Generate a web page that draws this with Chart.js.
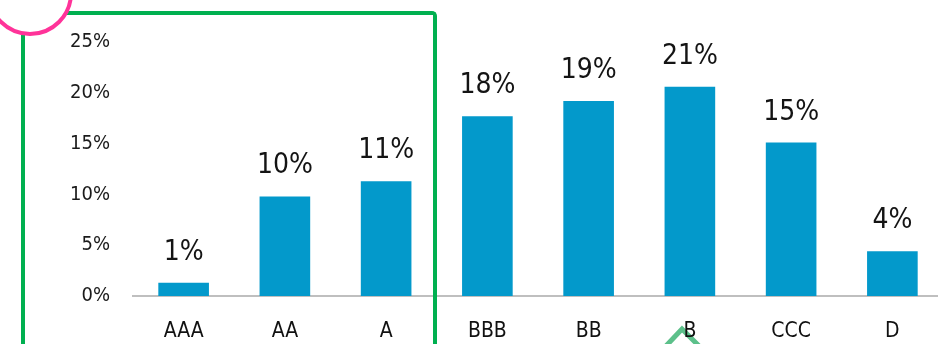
<!DOCTYPE html>
<html>
<head>
<meta charset="utf-8">
<script src="https://cdn.jsdelivr.net/npm/chart.js@4"></script>
<style>
  html, body { margin: 0; padding: 0; background: #fff; overflow: hidden; }
  #wrap { position: relative; width: 938px; height: 344px; overflow: hidden; }
  #arrow { position: absolute; left: 0; top: 0; }
  #box { position: absolute; width: 943px; height: 344px; left: 0; top: 0; }
  #greenBox {
    position: absolute; left: 21px; top: 11px; width: 408px; height: 400px;
    border: 4px solid #00b050; border-bottom: none; border-top-right-radius: 5px;
  }
  #ring {
    position: absolute; left: -13px; top: -50px; width: 78px; height: 78px;
    border: 4px solid #ff3399; border-radius: 50%; background: #fff; overflow: hidden;
  }
  #ring span {
    position: absolute; left: 12px; top: 15px; font: bold 30px "Liberation Sans", sans-serif; color: #00b050;
  }
</style>
</head>
<body>
<div id="wrap">
  <svg id="arrow" width="938" height="344">
    <polyline points="665,347 682,329 700,347" fill="none" stroke="#5cc08a" stroke-width="5"/>
  </svg>
  <div id="box"><canvas id="chart" width="943" height="344"></canvas></div>
  <div id="greenBox"></div>
  <div id="ring"><span>24%</span></div>
</div>
<script>
  const notations = ["AAA", "AA", "A", "BBB", "BB", "B", "CCC", "D"];
  const parts = [1.3, 9.8, 11.3, 17.7, 19.2, 20.6, 15.1, 4.4];
  const yTicks = [0, 5, 10, 15, 20, 25];

  const police = "'DejaVu Sans Condensed', 'Liberation Sans Narrow', 'Liberation Sans', sans-serif";

  // pourcentage au-dessus de chaque barre
  const etiquettes = {
    id: "etiquettes",
    afterDatasetsDraw(chart) {
      const ctx = chart.ctx;
      const meta = chart.getDatasetMeta(0);
      ctx.save();
      ctx.font = "28px " + police;
      ctx.fillStyle = "#141414";
      ctx.textAlign = "center";
      ctx.textBaseline = "alphabetic";
      meta.data.forEach((bar, i) => {
        ctx.fillText(Math.round(parts[i]) + "%", bar.x, bar.y - 23);
      });
      ctx.restore();
    }
  };

  new Chart(document.getElementById("chart"), {
    type: "bar",
    data: {
      labels: notations,
      datasets: [{
        data: parts,
        backgroundColor: "#0399cb",
        barPercentage: 0.5,
        categoryPercentage: 1.0
      }]
    },
    options: {
      responsive: false,
      animation: false,
      layout: { padding: { top: 42, left: 0, right: 0, bottom: 0 } },
      plugins: { legend: { display: false }, tooltip: { enabled: false } },
      scales: {
        x: {
          grid: { display: false },
          border: { display: true, color: "#bfbfbf", width: 2 },
          ticks: { font: { family: police, size: 21 }, color: "#111", padding: 15, maxRotation: 0 },
          afterFit(scale) { scale.height = 48; }
        },
        y: {
          min: 0, max: 25,
          grid: { display: false },
          border: { display: false },
          afterBuildTicks(scale) { scale.ticks = yTicks.map(v => ({ value: v })); },
          ticks: {
            font: { family: police, size: 20 },
            color: "#1a1a1a",
            padding: 15,
            callback: v => v + "%"
          },
          afterFit(scale) { scale.width = 133; }
        }
      }
    },
    plugins: [etiquettes]
  });
</script>
</body>
</html>
